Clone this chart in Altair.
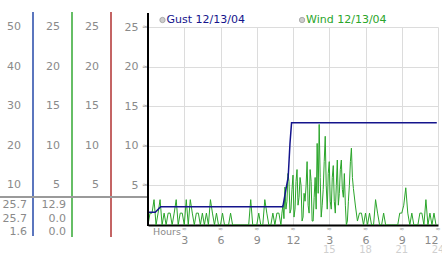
import altair as alt
import pandas as pd

# ---------------- data ----------------
# 0h-11h and 17h-24h: 10-minute samples; 11h-17h: 5-minute samples
wind_early = [
    0, 1.5, 1.5, 3.2, 0, 1.5,        # 0h
    3.2, 0, 1.5, 0, 1.5, 1.5,        # 1h
    0, 1.5, 3.2, 0, 1.5, 1.5,        # 2h
    0, 3.2, 0, 3.2, 1.5, 0,          # 3h
    1.5, 1.5, 0, 1.5, 0, 1.5,        # 4h
    0, 3.2, 1.5, 0, 1.5, 0,          # 5h
    0, 1.5, 0, 0, 0, 1.5,            # 6h
    0, 0, 0, 0, 0, 0,                # 7h
    0, 0, 0, 3.2, 0, 0,              # 8h
    0, 1.5, 0, 0, 3.2, 1.5,          # 9h
    0, 0, 1.5, 0, 1.5, 1.5,          # 10h
]
wind_mid = [
    0, 1.5, 2.5, 0.8, 4.8, 2.0, 3.0, 6.5, 5.5, 1.5, 2.0, 4.5,       # 11h
    6.3, 1.0, 2.0, 5.5, 7.0, 2.5, 3.5, 6.0, 5.0, 0.5, 1.0, 4.0,     # 12h
    3.0, 5.0, 8.0, 2.5, 1.5, 7.0, 5.5, 0.5, 0.5, 3.5, 6.0, 2.0,     # 13h
    10.3, 4.0, 12.7, 6.0, 1.0, 2.5, 4.5, 8.0, 11.2, 5.0, 2.0, 6.5,  # 14h
    8.0, 3.0, 2.0, 6.0, 7.5, 3.0, 1.5, 5.0, 8.2, 2.5, 4.0, 7.0,     # 15h
    8.2, 4.5, 3.5, 6.5, 2.5, 0, 0.5, 3.0, 5.0, 8.0, 9.7, 6.0,       # 16h
]
wind_late = [
    4.6, 2.4, 0.5, 1.5, 1.5, 0,      # 17h
    1.5, 0, 1.5, 0, 0, 3.2,          # 18h
    1.5, 0, 0, 1.5, 0, 0,            # 19h
    0, 0, 0, 0, 0, 1.5,              # 20h
    1.5, 2.5, 4.7, 1.5, 0, 1.5,      # 21h
    0, 0, 0, 1.5, 1.5, 0,            # 22h
    3.2, 0, 1.5, 0, 1.5, 0,          # 23h
]
wind = wind_early + wind_mid + wind_late
wind_hours = ([i / 6 for i in range(len(wind_early))]
              + [11 + i / 12 for i in range(len(wind_mid))]
              + [17 + i / 6 for i in range(len(wind_late))])

gust_hours = [0, 0.6, 1.05, 11.16, 11.45, 11.6, 11.75, 11.88, 23.9]
gust = [1.6, 1.6, 2.3, 2.3, 4.8, 6.0, 10.3, 12.9, 12.9]

y_ticks = [5, 10, 15, 20, 25]
y_labels_gray = ["10", "20", "30", "40", "50"]
y_labels_5 = ["5", "10", "15", "20", "25"]
x_ticks = [3, 6, 9, 12, 15, 18, 21, 24]
x_ticks_second = [15, 18, 21, 24]

table_col1 = ["25.7", "25.7", "1.6"]
table_col2 = ["12.9", "0.0", "0.0"]

legend_names = ["Gust 12/13/04", "Wind 12/13/04"]
legend_hours = [1.2, 12.75]

FONT = "DejaVu Sans"
GRAY = "#8a8a8a"
NAVY = "#14148c"
GREEN = "#2aa52a"

# ---------------- scales / axes ----------------
xs = alt.Scale(domain=[0, 24], nice=False, zero=False)
ys = alt.Scale(domain=[0, 25], nice=False, zero=False)
xaxis = alt.Axis(values=x_ticks, grid=True, gridColor="#dcdcdc", ticks=False,
                 domain=True, domainColor="black", domainWidth=2,
                 labelPadding=9, labelFontSize=11, labelColor=GRAY, labelFont=FONT,
                 labelExpr="datum.value % 12 == 0 ? '12' : '' + (datum.value % 12)",
                 title=None)
yaxis = alt.Axis(values=y_ticks, grid=True, gridColor="#dcdcdc", ticks=False,
                 domain=False, labelPadding=10, labelFontSize=11, labelColor=GRAY,
                 labelFont=FONT, title=None)

X = lambda f: alt.X(f, type="quantitative", scale=xs, axis=xaxis)
Y = lambda f: alt.Y(f, type="quantitative", scale=ys, axis=yaxis)

wind_df = pd.DataFrame({"h": wind_hours, "v": wind})
gust_df = pd.DataFrame({"h": gust_hours, "v": gust})

wind_line = alt.Chart(wind_df).mark_line(color=GREEN, strokeWidth=1, clip=True).encode(
    x=X("h"), y=Y("v"))
gust_line = alt.Chart(gust_df).mark_line(color=NAVY, strokeWidth=1.5, clip=True).encode(
    x=X("h"), y=Y("v"))

# y-axis little marks and extra columns
ydf = pd.DataFrame({"v": y_ticks, "g": y_labels_gray, "f": y_labels_5})
ymarks = alt.Chart(ydf).mark_text(text="≈", fontSize=7, color="#999", font=FONT).encode(
    x=alt.value(-3), y=Y("v"))
col_gray = alt.Chart(ydf).mark_text(align="right", fontSize=11, color=GRAY, font=FONT).encode(
    x=alt.value(-127), y=Y("v"), text="g:N")
col_blue = alt.Chart(ydf).mark_text(align="right", fontSize=11, color=GRAY, font=FONT).encode(
    x=alt.value(-88), y=Y("v"), text="f:N")
col_green = alt.Chart(ydf).mark_text(align="right", fontSize=11, color=GRAY, font=FONT).encode(
    x=alt.value(-49), y=Y("v"), text="f:N")

# x-axis little marks and second label row (pixel offsets from plot top, height 198)
xdf = pd.DataFrame({"h": x_ticks})
xmarks = alt.Chart(xdf).mark_text(text="≈", fontSize=6, color="#999", font=FONT).encode(
    x=X("h"), y=alt.value(202))
x2df = pd.DataFrame({"h": x_ticks_second, "t": [str(v) for v in x_ticks_second]})
xsecond = alt.Chart(x2df).mark_text(fontSize=10, color="#cfcfcf", font=FONT).encode(
    x=X("h"), y=alt.value(223), text="t:N")
hours_lbl = alt.Chart(pd.DataFrame({"t": ["Hours"]})).mark_text(
    align="left", fontSize=9.5, color=GRAY, font=FONT).encode(
    x=alt.value(5), y=alt.value(205), text="t:N")

# separators
def vrule(xpix, color, y1, y2, w=1.5):
    return alt.Chart(pd.DataFrame({"a": [0]})).mark_rule(color=color, strokeWidth=w).encode(
        x=alt.value(xpix), y=alt.value(y1), y2=alt.value(y2))

blue_rule = vrule(-115, "#2448a8", -15, 209)
green_rule = vrule(-76, "#33a833", -15, 210)
red_rule = vrule(-37, "#b03030", -15, 210)
black_rule = vrule(0, "black", -14, 199, w=2)
hline = alt.Chart(pd.DataFrame({"a": [0]})).mark_rule(color="#9a9a9a", strokeWidth=2).encode(
    x=alt.value(-148), x2=alt.value(0), y=alt.value(170))

# table
tdf = pd.DataFrame({"c1": table_col1, "c2": table_col2, "row": [178, 191.5, 205]})
t1 = alt.Chart(tdf).mark_text(align="right", fontSize=11, color=GRAY, font=FONT).encode(
    x=alt.value(-121), y=alt.Y("row:Q", scale=None), text="c1:N")
t2 = alt.Chart(tdf).mark_text(align="right", fontSize=11, color=GRAY, font=FONT).encode(
    x=alt.value(-82), y=alt.Y("row:Q", scale=None), text="c2:N")

# legend
ldf = pd.DataFrame({"h": legend_hours, "t": legend_names, "c": [NAVY, GREEN]})
ldots = alt.Chart(ldf).mark_point(filled=True, size=28, color="#b8b8b8", stroke="#888",
                                  strokeWidth=1, shape="circle").encode(
    x=X("h"), y=alt.value(-7))
ltext = alt.Chart(ldf).mark_text(align="left", fontSize=11, font=FONT, dx=4).encode(
    x=X("h"), y=alt.value(-7), text="t:N", color=alt.Color("c:N", scale=None))

chart = alt.layer(
    wind_line, gust_line, ymarks, col_gray, col_blue, col_green, xmarks, xsecond, hours_lbl,
    blue_rule, green_rule, red_rule, hline, black_rule, t1, t2, ldots, ltext
).properties(
    width=290, height=198, autosize="none",
    padding={"left": 148, "top": 27, "right": 4, "bottom": 28},
    background="white"
).configure_view(stroke=None)

chart.save("out.html", embed_options={"renderer": "svg", "actions": False})
